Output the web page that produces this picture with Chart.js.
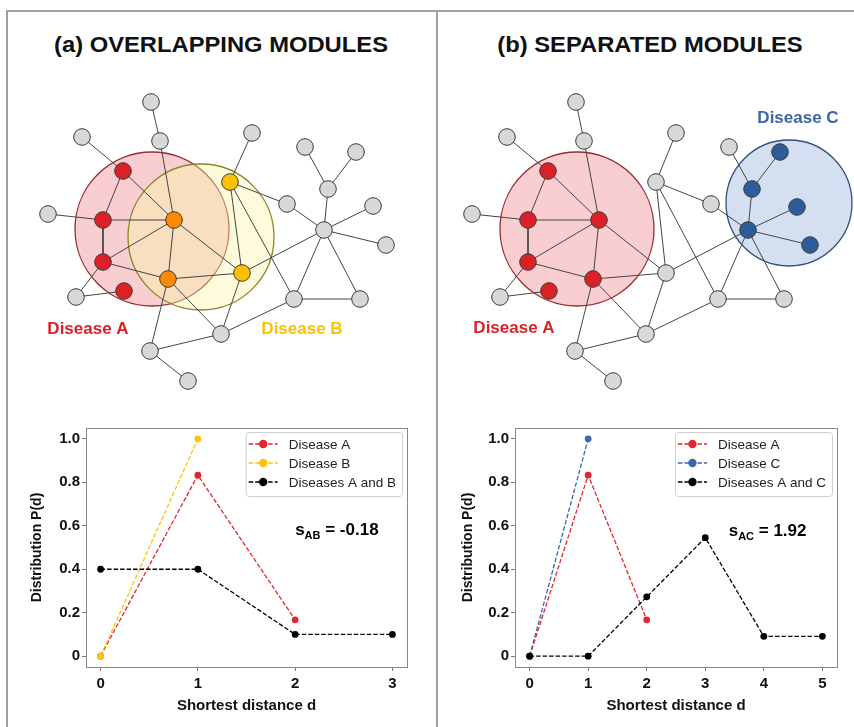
<!DOCTYPE html>
<html>
<head>
<meta charset="utf-8">
<script src="https://cdn.jsdelivr.net/npm/chart.js@4.4.1/dist/chart.umd.min.js"></script>
<style>
  html, body { margin: 0; padding: 0; background: #fff; width: 854px; height: 727px; overflow: hidden; position: relative; font-family: "Liberation Sans", Arial, sans-serif; }
  .frame { position: absolute; left: 6px; top: 10px; width: 900px; height: 800px; border: 2px solid #a0a0a0; box-sizing: border-box; }
  .divider { position: absolute; left: 436px; top: 10px; width: 2px; height: 800px; background: #a0a0a0; }
  .title { position: absolute; top: 32px; line-height: 26px; font-weight: bold; font-size: 22px; white-space: nowrap; color: #111; transform: translateX(-50%) scaleX(1.08); }
  canvas { position: absolute; }
</style>
</head>
<body>
<div class="frame"></div>
<div class="divider"></div>
<div class="title" style="left:221px">(a) OVERLAPPING MODULES</div>
<div class="title" style="left:650px">(b) SEPARATED MODULES</div>

<canvas id="netA" width="427" height="340" style="left:0;top:60px"></canvas>
<canvas id="netB" width="427" height="340" style="left:427px;top:60px"></canvas>
<canvas id="distA" width="427" height="317" style="left:0;top:410px"></canvas>
<canvas id="distB" width="427" height="317" style="left:427px;top:410px"></canvas>

<script>
// ---------- network layouts (same topology, two module placements) ----------
const netA_x = [151,160,82,123,48,103,174,103,168,124,76,230,252,242,287,324,328,305,356,373,386,294,360,221,150,188];
const netA_y = [102,141,137,171,214,220,220,262,279,291,297,182,133,273,204,230,189,147,152,206,245,299,299,334,351,381];
const netA_group = ['n','n','n','A','n','A','AB','A','AB','A','n','B','n','B','n','n','n','n','n','n','n','n','n','n','n','n'];

const netB_x = [576,584,507,548,472,528,599,528,593,549,500,656,676,666,711,748,752,729,780,797,810,718,784,646,575,613];
const netB_y = [102,141,137,171,214,220,220,262,279,291,297,182,133,273,204,230,189,147,152,207,245,299,299,334,351,381];
const netB_group = ['n','n','n','A','n','A','A','A','A','A','n','n','n','n','n','C','C','n','C','C','C','n','n','n','n','n'];

const netEdges = [
  [0,1],[1,6],[2,3],[3,5],[3,6],[4,5],[5,6],[5,7],[7,6],[7,8],[7,10],[10,9],
  [6,8],[6,13],[8,13],[8,23],[8,24],[11,12],[11,13],[11,14],[11,21],[13,23],
  [13,15],[14,15],[15,16],[16,17],[16,18],[15,19],[15,20],[15,21],[15,22],
  [21,22],[21,23],[23,24],[24,25]
];

// module circles: centre and radius in layout units
const modulesA = [ {name:'A', cx:152, cy:229, r:77}, {name:'B', cx:201, cy:237, r:73} ];
const modulesB = [ {name:'A', cx:577, cy:229, r:77}, {name:'C', cx:789, cy:203, r:63} ];

const netLabelsA = [ {text:'Disease A', x:88, y:329, key:'A'}, {text:'Disease B', x:302, y:329, key:'B'} ];
const netLabelsB = [ {text:'Disease A', x:514, y:328, key:'A'}, {text:'Disease C', x:798, y:118, key:'C'} ];

// ---------- shortest-distance distributions ----------
const distance = [0, 1, 2, 3, 4, 5];
const pA_diseaseA = [0, 0.833, 0.167];
const pA_diseaseB = [0, 1.0];
const pA_both     = [0.4, 0.4, 0.1, 0.1];
const pB_diseaseA = [0, 0.833, 0.167];
const pB_diseaseC = [0, 1.0];
const pB_both     = [0, 0, 0.273, 0.545, 0.091, 0.091];
const yTicks      = [0, 0.2, 0.4, 0.6, 0.8, 1.0];
const yTickLabels = ['0', '0.2', '0.4', '0.6', '0.8', '1.0'];
const sAB = -0.18;
const sAC = 1.92;

const FONT = '"Liberation Sans", Arial, sans-serif';

const nodeFill = { n:'#d8d8d8', A:'#dc2027', B:'#ffc000', AB:'#ff8a00', C:'#2e5c9a' };
const moduleStyle = {
  A: { fill:'rgba(230,80,90,0.28)', stroke:'#9a2c30' },
  B: { fill:'rgba(250,245,165,0.4)', stroke:'#8c8626' },
  C: { fill:'rgba(120,160,210,0.32)', stroke:'#33507a' }
};
const labelColor = { A:'#dc2027', B:'#ffc000', C:'#3a66a6' };

// text labels placed in data coordinates of the network charts
const netTextPlugin = {
  id: 'netText',
  afterDatasetsDraw(chart, args, opts) {
    const ctx = chart.ctx, xs = chart.scales.x, ys = chart.scales.y;
    ctx.save();
    ctx.font = 'bold 17px ' + FONT;
    ctx.textAlign = 'center';
    ctx.textBaseline = 'middle';
    (opts.items || []).forEach(it => {
      ctx.fillStyle = labelColor[it.key];
      ctx.fillText(it.text, xs.getPixelForValue(it.x), ys.getPixelForValue(it.y));
    });
    ctx.restore();
  }
};

function makeNetwork(id, xs, ys, groups, modules, labels, xMin) {
  const datasets = [];
  // nodes on top
  datasets.push({
    data: xs.map((x, i) => ({ x, y: ys[i] })),
    pointRadius: 8.3,
    pointBackgroundColor: groups.map(g => nodeFill[g]),
    pointBorderColor: '#3a3a3a',
    pointBorderWidth: 1,
    order: 0,
    clip: false
  });
  // edges
  netEdges.forEach(([a, b]) => {
    datasets.push({
      data: [{ x: xs[a], y: ys[a] }, { x: xs[b], y: ys[b] }],
      showLine: true,
      borderColor: '#444',
      borderWidth: 1,
      pointRadius: 0,
      order: 1,
      clip: false
    });
  });
  // module circles (later modules drawn above earlier ones)
  modules.forEach((m, i) => {
    datasets.push({
      data: [{ x: m.cx, y: m.cy }],
      pointRadius: m.r,
      pointBackgroundColor: moduleStyle[m.name].fill,
      pointBorderColor: moduleStyle[m.name].stroke,
      pointBorderWidth: 1.3,
      order: 10 - i,
      clip: false
    });
  });
  return new Chart(document.getElementById(id), {
    type: 'scatter',
    data: { datasets },
    options: {
      responsive: false,
      animation: false,
      events: [],
      layout: { padding: 0, autoPadding: false },
      scales: {
        x: { type: 'linear', display: false, min: xMin, max: xMin + 427 },
        y: { type: 'linear', display: false, min: 60, max: 400, reverse: true }
      },
      plugins: { legend: { display: false }, tooltip: { enabled: false }, netText: { items: labels } }
    },
    plugins: [netTextPlugin]
  });
}

// axes frame (all four spines)
const spinesPlugin = {
  id: 'spines',
  beforeDatasetsDraw(chart) {
    const { ctx, chartArea: a } = chart;
    ctx.save();
    ctx.strokeStyle = '#888';
    ctx.lineWidth = 1;
    ctx.strokeRect(Math.round(a.left) + 0.5, Math.round(a.top) + 0.5, Math.round(a.right - a.left), Math.round(a.bottom - a.top));
    ctx.restore();
  }
};

// legend box with dashed line + dot sample
const legendBoxPlugin = {
  id: 'legendBox',
  afterDatasetsDraw(chart, args, opts) {
    const { ctx, chartArea: a } = chart;
    const items = chart.data.datasets;
    ctx.save();
    ctx.font = '13.5px ' + FONT;
    const tw = Math.max(...items.map(d => ctx.measureText(d.label).width));
    const w = 3 + 29 + 11 + tw + 6, h = 64;
    const x = a.right - opts.right - w, y = a.top + opts.top;
    ctx.beginPath();
    ctx.roundRect(x + 0.5, y + 0.5, w, h, 3);
    ctx.fillStyle = 'rgba(255,255,255,0.85)';
    ctx.fill();
    ctx.strokeStyle = '#d0d0d0';
    ctx.lineWidth = 1;
    ctx.stroke();
    items.forEach((d, i) => {
      const cy = y + 12 + i * 19;
      ctx.beginPath();
      ctx.setLineDash([4.5, 2]);
      ctx.strokeStyle = d.borderColor;
      ctx.lineWidth = 1.3;
      ctx.moveTo(x + 3, cy);
      ctx.lineTo(x + 32, cy);
      ctx.stroke();
      ctx.setLineDash([]);
      ctx.beginPath();
      ctx.arc(x + 17.5, cy, 4.2, 0, Math.PI * 2);
      ctx.fillStyle = d.pointBackgroundColor;
      ctx.fill();
      ctx.fillStyle = '#222';
      ctx.textAlign = 'left';
      ctx.textBaseline = 'middle';
      ctx.fillText(d.label, x + 43, cy + 1);
    });
    ctx.restore();
  }
};

// separation score annotation: s_XY = value
const scorePlugin = {
  id: 'score',
  afterDatasetsDraw(chart, args, opts) {
    const { ctx } = chart;
    const px = chart.scales.x.getPixelForValue(opts.x);
    const py = chart.scales.y.getPixelForValue(opts.y);
    ctx.save();
    ctx.fillStyle = '#000';
    ctx.textAlign = 'left';
    ctx.textBaseline = 'alphabetic';
    const base = py + 6;
    ctx.font = 'bold 17px ' + FONT;
    ctx.fillText('s', px, base);
    let cx = px + ctx.measureText('s').width;
    ctx.font = 'bold 11px ' + FONT;
    ctx.fillText(opts.sub, cx, base + 4);
    cx += ctx.measureText(opts.sub).width;
    ctx.font = 'bold 17px ' + FONT;
    ctx.fillText(' = ' + opts.value.toFixed(2), cx, base);
    ctx.restore();
  }
};

function series(label, values, color) {
  return {
    label,
    data: values.map((v, i) => ({ x: distance[i], y: v })),
    showLine: true,
    borderColor: color,
    borderWidth: 1.3,
    borderDash: [4.5, 2],
    pointRadius: 3.4,
    pointBackgroundColor: color,
    pointBorderWidth: 0,
    clip: false
  };
}

function makeDistribution(id, datasets, xMax, yAxisWidth, rightPad, titleOffset, score) {
  datasets.forEach((d, i) => { d.order = datasets.length - i; });
  const tickFont = { family: FONT, size: 15, weight: 'bold' };
  return new Chart(document.getElementById(id), {
    type: 'scatter',
    data: { datasets },
    options: {
      responsive: false,
      animation: false,
      events: [],
      layout: { padding: { top: 18, right: rightPad, left: 0, bottom: 0 }, autoPadding: false },
      scales: {
        x: {
          type: 'linear',
          min: -0.05 * xMax,
          max: 1.05 * xMax,
          afterBuildTicks: s => { s.ticks = distance.slice(0, xMax + 1).map(v => ({ value: v })); },
          afterFit: s => { s.height = 60; },
          ticks: { font: tickFont, color: '#111', padding: 4, maxRotation: 0, autoSkip: false, callback: v => String(v) },
          grid: { drawOnChartArea: false, drawTicks: true, tickLength: 4, tickColor: '#777' },
          border: { display: false },
          title: { display: true, text: 'Shortest distance d', color: '#111', font: { family: FONT, size: 15, weight: 'bold' }, padding: { top: 0, bottom: 12 } }
        },
        y: {
          type: 'linear',
          min: -0.05,
          max: 1.05,
          afterBuildTicks: s => { s.ticks = yTicks.map(v => ({ value: v })); },
          afterFit: s => { s.width = yAxisWidth; },
          ticks: { font: tickFont, color: '#111', padding: 2, callback: v => yTickLabels[yTicks.indexOf(v)] },
          grid: { drawOnChartArea: false, drawTicks: true, tickLength: 4, tickColor: '#777' },
          border: { display: false },
          title: { display: true, text: 'Distribution P(d)', color: '#111', font: { family: FONT, size: 14, weight: 'bold' }, padding: { top: titleOffset, bottom: 0 } }
        }
      },
      plugins: {
        legend: { display: false },
        tooltip: { enabled: false },
        legendBox: { right: 5, top: 4 },
        score
      }
    },
    plugins: [spinesPlugin, legendBoxPlugin, scorePlugin]
  });
}

makeNetwork('netA', netA_x, netA_y, netA_group, modulesA, netLabelsA, 0);
makeNetwork('netB', netB_x, netB_y, netB_group, modulesB, netLabelsB, 427);

makeDistribution('distA', [
  series('Disease A', pA_diseaseA, '#e3262d'),
  series('Disease B', pA_diseaseB, '#ffc20e'),
  series('Diseases A and B', pA_both, '#000000')
], 3, 86, 20, 29, { x: 2.0, y: 0.585, sub: 'AB', value: sAB });

makeDistribution('distB', [
  series('Disease A', pB_diseaseA, '#e3262d'),
  series('Disease C', pB_diseaseC, '#3b68a8'),
  series('Diseases A and C', pB_both, '#000000')
], 5, 88, 17, 33, { x: 3.4, y: 0.58, sub: 'AC', value: sAC });
</script>
</body>
</html>
